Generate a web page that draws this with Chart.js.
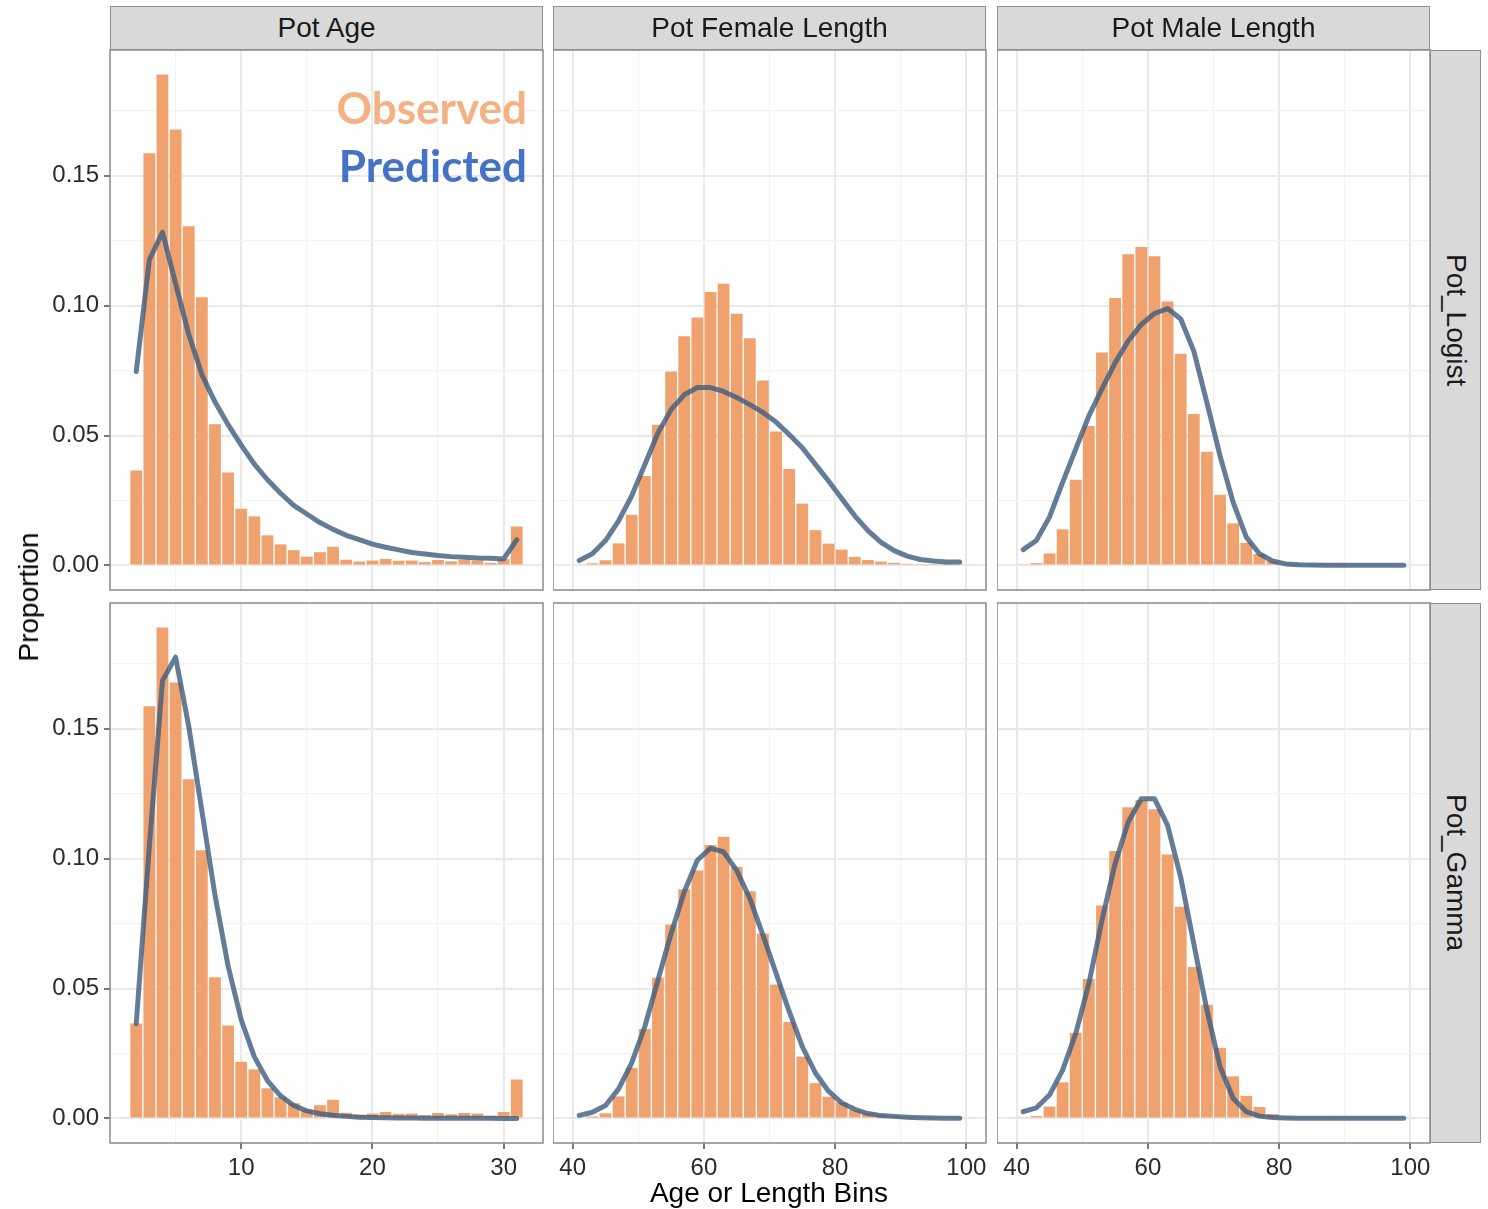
<!DOCTYPE html>
<html>
<head>
<meta charset="utf-8">
<script src="https://cdn.jsdelivr.net/npm/chart.js@4.4.1/dist/chart.umd.min.js"></script>
<style>
  body { margin: 0; background: #fff; }
  #page { position: relative; width: 1488px; height: 1209px; overflow: hidden; font-family: "Liberation Sans", Arial, sans-serif; }
  canvas { position: absolute; }
  .strip { position: absolute; box-sizing: border-box; background: #d9d9d9; border: 1.5px solid #8f8f8f; color: #1a1a1a; font-size: 28px; display: flex; align-items: center; justify-content: center; }
  .strip.side { writing-mode: vertical-rl; }
  .key { position: absolute; font-family: Lato, "Open Sans", sans-serif; font-weight: 700; font-size: 44px; line-height: 44px; white-space: nowrap; }
  .title { position: absolute; font-size: 28px; color: #000; white-space: nowrap; transform: translate(-50%, -50%); }
</style>
</head>
<body>
<div id="page"></div>
<script>
// bins
const ageBins = [2, 3, 4, 5, 6, 7, 8, 9, 10, 11, 12, 13, 14, 15, 16, 17, 18, 19, 20, 21, 22, 23, 24, 25, 26, 27, 28, 29, 30, 31];
const lengthBins = [41, 43, 45, 47, 49, 51, 53, 55, 57, 59, 61, 63, 65, 67, 69, 71, 73, 75, 77, 79, 81, 83, 85, 87, 89, 91, 93, 95, 97, 99];

// observed proportions (same in both model rows)
const ageObserved = [0.0366, 0.1587, 0.1890, 0.1678, 0.1306, 0.1033, 0.0544, 0.0358, 0.0218, 0.0189, 0.0116, 0.0081, 0.0059, 0.0034, 0.0051, 0.0072, 0.0022, 0.0015, 0.0019, 0.0025, 0.0018, 0.0019, 0.0013, 0.0021, 0.0016, 0.0021, 0.0019, 0.0010, 0.0025, 0.0150];
const femaleObserved = [0, 0.0008, 0.0020, 0.0085, 0.0195, 0.0344, 0.0542, 0.0747, 0.0882, 0.0955, 0.1053, 0.1085, 0.0969, 0.0875, 0.0712, 0.0516, 0.0371, 0.0238, 0.0136, 0.0084, 0.0061, 0.0033, 0.0021, 0.0015, 0.0010, 0.0006, 0.0005, 0.0005, 0.0006, 0.0004];
const maleObserved = [0.0003, 0.0009, 0.0046, 0.0139, 0.0330, 0.0537, 0.0820, 0.1030, 0.1198, 0.1226, 0.1190, 0.1016, 0.0815, 0.0583, 0.0438, 0.0272, 0.0162, 0.0087, 0.0044, 0.0017, 0.0007, 0.0003, 0.0002, 0.0001, 0.0001, 0, 0, 0, 0, 0];

// predicted, Pot_Logist row
const ageLogist = [0.0747, 0.1177, 0.1283, 0.1085, 0.0890, 0.0735, 0.0630, 0.0542, 0.0463, 0.0390, 0.0330, 0.0278, 0.0231, 0.0198, 0.0165, 0.0139, 0.0116, 0.0099, 0.0082, 0.0070, 0.0060, 0.0050, 0.0044, 0.0038, 0.0034, 0.0032, 0.0029, 0.0028, 0.0025, 0.0099];
const femaleLogist = [0.0019, 0.0045, 0.0096, 0.0172, 0.0268, 0.0389, 0.0510, 0.0600, 0.0657, 0.0685, 0.0685, 0.0670, 0.0647, 0.0619, 0.0589, 0.0552, 0.0504, 0.0453, 0.0389, 0.0325, 0.0258, 0.0191, 0.0134, 0.0089, 0.0057, 0.0036, 0.0023, 0.0017, 0.0013, 0.0013];
const maleLogist = [0.0061, 0.0096, 0.0186, 0.0320, 0.0448, 0.0576, 0.0680, 0.0780, 0.0864, 0.0928, 0.0970, 0.0989, 0.0949, 0.0825, 0.0627, 0.0422, 0.0243, 0.0109, 0.0045, 0.0017, 0.0006, 0.0003, 0.0002, 0.0001, 0.0001, 0.0001, 0.0001, 0.0001, 0.0001, 0.0001];

// predicted, Pot_Gamma row
const ageGamma = [0.0366, 0.1050, 0.1685, 0.1776, 0.1510, 0.1185, 0.0860, 0.0587, 0.0380, 0.0237, 0.0146, 0.0087, 0.0050, 0.0029, 0.0018, 0.0012, 0.0008, 0.0005, 0.0004, 0.0003, 0.0002, 0.0002, 0.0001, 0.0001, 0.0001, 0.0001, 0.0001, 0.0001, 0, 0];
const femaleGamma = [0.0012, 0.0024, 0.0050, 0.0114, 0.0214, 0.0354, 0.0533, 0.0712, 0.0872, 0.0994, 0.1041, 0.1026, 0.0955, 0.0847, 0.0706, 0.0559, 0.0412, 0.0277, 0.0175, 0.0105, 0.0060, 0.0035, 0.0019, 0.0011, 0.0008, 0.0005, 0.0003, 0.0002, 0.0001, 0.0001];
const maleGamma = [0.0026, 0.0041, 0.0090, 0.0186, 0.0327, 0.0519, 0.0763, 0.0981, 0.1141, 0.1231, 0.1231, 0.1128, 0.0929, 0.0673, 0.0417, 0.0199, 0.0077, 0.0026, 0.0009, 0.0004, 0.0002, 0.0001, 0.0001, 0.0001, 0.0001, 0.0001, 0.0001, 0.0001, 0.0001, 0.0001];

// ticks
const yMajor = [0, 0.05, 0.10, 0.15];
const yMinor = [0.025, 0.075, 0.125, 0.175];
const ageMajor = [10, 20, 30];
const ageMinor = [5, 15, 25];
const lengthMajor = [40, 60, 80, 100];
const lengthMinor = [50, 70, 90];

const columnNames = ['Pot Age', 'Pot Female Length', 'Pot Male Length'];
const rowNames = ['Pot_Logist', 'Pot_Gamma'];

const barColor = '#f0a26e';
const lineColor = 'rgba(60, 92, 126, 0.8)';

// layout
const colLeft = [110, 553, 997];
const rowTop = [50, 603];
const panelW = 433, panelH = 540;
const padLeft = 110, padBottom = 60, padRight = 24, padTop = 24;

const columns = [
    { bins: ageBins, binWidth: 1, obs: ageObserved, pred: [ageLogist, ageGamma], major: ageMajor, minor: ageMinor },
    { bins: lengthBins, binWidth: 2, obs: femaleObserved, pred: [femaleLogist, femaleGamma], major: lengthMajor, minor: lengthMinor },
    { bins: lengthBins, binWidth: 2, obs: maleObserved, pred: [maleLogist, maleGamma], major: lengthMajor, minor: lengthMinor }
];

// shared y range, ggplot style 5% expansion
var yTop = 0;
columns.forEach(function (c) {
    yTop = Math.max(yTop, Math.max.apply(null, c.obs));
    c.pred.forEach(function (p) { yTop = Math.max(yTop, Math.max.apply(null, p)); });
});
const yMin = -0.05 * yTop, yMax = yTop * 1.05;

const page = document.getElementById('page');

const frame = {
    id: 'frame',
    afterDraw(chart) {
        const a = chart.chartArea, ctx = chart.ctx;
        ctx.save();
        ctx.strokeStyle = '#8a8a8a';
        ctx.lineWidth = 1.5;
        ctx.strokeRect(a.left, a.top, a.right - a.left, a.bottom - a.top);
        ctx.restore();
    }
};

function gridOpts(major, showTicks) {
    return {
        offset: false,
        drawTicks: showTicks,
        tickLength: 6,
        tickWidth: 1.5,
        color: c => (c.tick && major.includes(c.tick.value)) ? '#e9e9e9' : '#f3f3f3',
        lineWidth: c => (c.tick && major.includes(c.tick.value)) ? 2 : 1.2,
        tickColor: c => (c.tick && major.includes(c.tick.value)) ? '#4d4d4d' : 'rgba(0,0,0,0)'
    };
}

function makePanel(r, ci) {
    const col = columns[ci];
    const left = ci === 0;
    const bottom = r === 1;
    const lo = col.bins[0] - col.binWidth / 2;
    const hi = col.bins[col.bins.length - 1] + col.binWidth / 2;
    const xPad = (hi - lo) * 0.05;
    const xTicks = col.major.concat(col.minor).sort((a, b) => a - b);
    const yTicks = yMajor.concat(yMinor).sort((a, b) => a - b);
    const padBot = bottom ? 0 : padTop;

    const cv = document.createElement('canvas');
    cv.width = panelW + (left ? padLeft : 0) + padRight;
    cv.height = padTop + panelH + (bottom ? padBottom : padBot);
    cv.style.left = (colLeft[ci] - (left ? padLeft : 0)) + 'px';
    cv.style.top = (rowTop[r] - padTop) + 'px';
    page.appendChild(cv);

    new Chart(cv, {
        type: 'bar',
        data: {
            datasets: [{
                type: 'line',
                data: col.bins.map((x, i) => ({ x: x, y: col.pred[r][i] })),
                borderColor: lineColor,
                borderWidth: 5,
                borderJoinStyle: 'round',
                borderCapStyle: 'round',
                pointRadius: 0,
                tension: 0,
                order: 0
            }, {
                type: 'bar',
                data: col.bins.map((x, i) => ({ x: x, y: col.obs[i] })),
                backgroundColor: barColor,
                borderWidth: 0,
                barPercentage: 0.9,
                categoryPercentage: 1,
                order: 1
            }]
        },
        options: {
            responsive: false,
            animation: false,
            events: [],
            layout: { padding: { left: 0, top: padTop, right: padRight, bottom: padBot } },
            plugins: { legend: { display: false }, tooltip: { enabled: false } },
            scales: {
                x: {
                    type: 'linear',
                    min: lo - xPad,
                    max: hi + xPad,
                    offset: false,
                    border: { display: false },
                    grid: gridOpts(col.major, bottom),
                    ticks: {
                        display: bottom,
                        autoSkip: false,
                        maxRotation: 0,
                        padding: 5,
                        color: '#2b2b2b',
                        font: { family: '"Liberation Sans", Arial, sans-serif', size: 24 },
                        callback: v => col.major.includes(v) ? String(v) : ''
                    },
                    afterBuildTicks: s => { s.ticks = xTicks.map(v => ({ value: v })); },
                    afterFit: s => { s.height = bottom ? padBottom : 0; }
                },
                y: {
                    type: 'linear',
                    min: yMin,
                    max: yMax,
                    border: { display: false },
                    grid: gridOpts(yMajor, left),
                    ticks: {
                        display: left,
                        autoSkip: false,
                        padding: 5,
                        color: '#2b2b2b',
                        font: { family: '"Liberation Sans", Arial, sans-serif', size: 24 },
                        callback: v => yMajor.includes(v) ? v.toFixed(2) : ''
                    },
                    afterBuildTicks: s => { s.ticks = yTicks.map(v => ({ value: v })); },
                    afterFit: s => { s.width = left ? padLeft : 0; }
                }
            }
        },
        plugins: [frame]
    });
}

for (var r = 0; r < rowNames.length; r++) {
    for (var c = 0; c < columns.length; c++) {
        makePanel(r, c);
    }
}

// facet strips
columnNames.forEach(function (name, i) {
    const d = document.createElement('div');
    d.className = 'strip';
    d.style.left = colLeft[i] + 'px';
    d.style.top = '6px';
    d.style.width = panelW + 'px';
    d.style.height = '44px';
    d.textContent = name;
    page.appendChild(d);
});
rowNames.forEach(function (name, i) {
    const d = document.createElement('div');
    d.className = 'strip side';
    d.style.left = '1430px';
    d.style.top = rowTop[i] + 'px';
    d.style.width = '51px';
    d.style.height = panelH + 'px';
    d.textContent = name;
    page.appendChild(d);
});

// overlay key
function addText(cls, text, style) {
    const d = document.createElement('div');
    d.className = cls;
    d.textContent = text;
    Object.assign(d.style, style);
    page.appendChild(d);
}
addText('key', 'Observed', { right: '961px', top: '85px', color: '#f4b183' });
addText('key', 'Predicted', { right: '961px', top: '143px', color: '#4472c4' });

// axis titles
addText('title', 'Proportion', { left: '29px', top: '597px', transform: 'translate(-50%, -50%) rotate(-90deg)' });
addText('title', 'Age or Length Bins', { left: '769px', top: '1193px' });
</script>
</body>
</html>
